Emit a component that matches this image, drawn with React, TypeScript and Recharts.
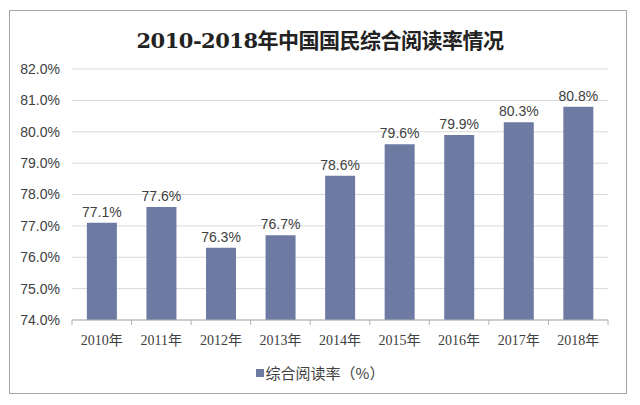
import React from "react";
import { BarChart, Bar, XAxis, YAxis, CartesianGrid, LabelList, Legend } from "recharts";

const years = ["2010年", "2011年", "2012年", "2013年", "2014年", "2015年", "2016年", "2017年", "2018年"];
const readingRate = [77.1, 77.6, 76.3, 76.7, 78.6, 79.6, 79.9, 80.3, 80.8];
const yTicks = [74, 75, 76, 77, 78, 79, 80, 81, 82];
const seriesName = "综合阅读率（%）";
const title = "2010-2018年中国国民综合阅读率情况";

const data = years.map((year, i) => ({ year, value: readingRate[i] }));

const BAR_COLOR = "#6d7ba3";
const AXIS_COLOR = "#b0b0b0";
const TEXT_COLOR = "#404040";

const fmtPct = (v: number) => `${v.toFixed(1)}%`;

// category label plus tick marks on the category boundaries
const YearTick = (props: any) => {
  const { x, y, payload, index, visibleTicksCount, width } = props;
  const band = width / visibleTicksCount;
  const left = payload.coordinate - band / 2;
  return (
    <g>
      <line x1={left} y1={y - 8} x2={left} y2={y - 3} stroke={AXIS_COLOR} />
      {index === visibleTicksCount - 1 && (
        <line x1={left + band} y1={y - 8} x2={left + band} y2={y - 3} stroke={AXIS_COLOR} />
      )}
      <text
        x={x}
        y={y + 17}
        textAnchor="middle"
        fill={TEXT_COLOR}
        fontSize={14}
        fontFamily="'Liberation Serif', 'Noto Sans CJK SC', serif"
      >
        {payload.value}
      </text>
    </g>
  );
};

const LegendContent = () => (
  <div style={{ height: 0, overflow: "visible" }}>
    <div
      style={{
        display: "flex",
        justifyContent: "center",
        alignItems: "center",
        fontSize: 15,
        color: TEXT_COLOR,
        fontFamily: "'Noto Sans CJK SC', sans-serif",
        lineHeight: "20px",
      }}
    >
      <span style={{ width: 8, height: 8, background: BAR_COLOR, marginRight: 2, display: "inline-block" }} />
      <span>{seriesName}</span>
    </div>
  </div>
);

export default function App() {
  return (
    <div style={{ position: "absolute", left: 0, top: 0, width: 640, height: 405, background: "#fff" }}>
      <div
        style={{
          position: "absolute",
          left: 9,
          top: 10,
          width: 616,
          height: 382,
          border: "1.5px solid #a6a6a6",
        }}
      />
      <div
        style={{
          position: "absolute",
          left: 0,
          top: 24,
          width: 640,
          textAlign: "center",
          fontSize: 21,
          fontWeight: "bold",
          color: "#222",
          fontFamily: "'DejaVu Serif', 'Noto Sans CJK SC', serif",
          letterSpacing: -0.5,
        }}
      >
        {title}
      </div>
      <div style={{ position: "absolute", left: 0, top: 0 }}>
        <BarChart
          width={640}
          height={405}
          data={data}
          margin={{ top: 69, right: 32, bottom: 55, left: 0 }}
          barCategoryGap="25%"
        >
          <CartesianGrid vertical={false} stroke="#d9d9d9" />
          <XAxis
            dataKey="year"
            height={30}
            axisLine={{ stroke: AXIS_COLOR }}
            tickLine={false}
            interval={0}
            tick={<YearTick />}
          />
          <YAxis
            width={72}
            domain={[74, 82]}
            ticks={yTicks}
            interval={0}
            axisLine={false}
            tickLine={false}
            tickMargin={6}
            tickFormatter={fmtPct}
            tick={{ fontSize: 14, fill: TEXT_COLOR, fontFamily: "Arial, 'Liberation Sans', sans-serif" }}
          />
          <Legend
            content={<LegendContent />}
            wrapperStyle={{ position: "absolute", top: 363, left: 0, width: 640, height: 0 }}
          />
          <Bar dataKey="value" name={seriesName} fill={BAR_COLOR} isAnimationActive={false}>
            <LabelList
              dataKey="value"
              position="top"
              offset={6}
              formatter={(v: any) => fmtPct(Number(v))}
              fill={TEXT_COLOR}
              fontSize={14}
              fontFamily="Arial, 'Liberation Sans', sans-serif"
            />
          </Bar>
        </BarChart>
      </div>
    </div>
  );
}
